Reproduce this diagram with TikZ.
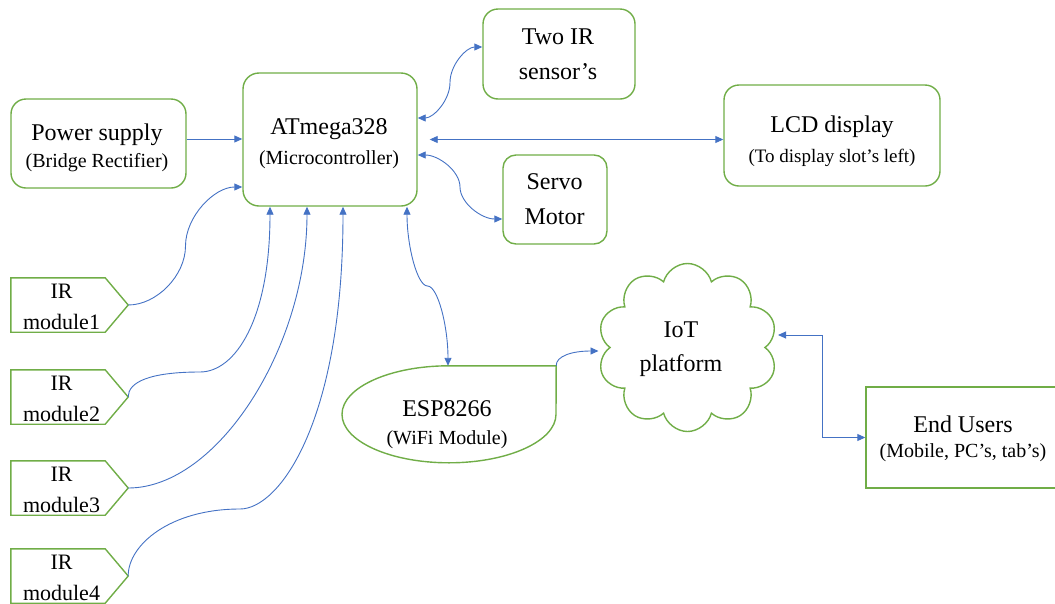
\documentclass[tikz,border=0pt]{standalone}
\usepackage{fontspec}
\setmainfont{Liberation Serif}
\usetikzlibrary{arrows.meta,shapes.symbols}
\definecolor{gr}{HTML}{70AD47}
\definecolor{bl}{HTML}{4472C4}
\begin{document}
\begin{tikzpicture}[x=1pt,y=-1pt,
  gbox/.style={draw=gr, line width=1.4pt, rounded corners=15pt, inner sep=0pt},
  frame/.style={inner sep=0pt, draw=none},
  gline/.style={draw=gr, line width=1.4pt, line join=miter},
  lbl/.style={inner sep=0pt, align=center, font=\fontsize{24}{#1}\selectfont},
  irlbl/.style={inner sep=0pt, align=center, font=\fontsize{22}{31}\selectfont},
  conn/.style={draw=bl, line width=0.9pt, -{Triangle[length=8pt,width=7pt]}},
  dconn/.style={draw=bl, line width=0.9pt, {Triangle[length=8pt,width=7pt]}-{Triangle[length=8pt,width=7pt]}}
]
\useasboundingbox (0,0) rectangle (1055,603);
\clip (0,0) rectangle (1055,603);

% boxes
\node[gbox, minimum width=175pt, minimum height=89pt] (ps) at (98.5,143.5) {};
\node[gbox, minimum width=174pt, minimum height=133pt, rounded corners=16pt] (mcu) at (330,139.5) {};
\node[gbox, minimum width=152pt, minimum height=90pt] (tir) at (559,54) {};
\node[gbox, minimum width=216pt, minimum height=101pt] (lcd) at (832,135.5) {};
\node[gbox, minimum width=104pt, minimum height=89pt, rounded corners=13pt] (servo) at (555,199.5) {};
\node[gbox, rounded corners=0pt, minimum width=194pt, minimum height=101pt] (eu) at (963,437.5) {};
\node[frame, minimum width=214pt, minimum height=97pt] (esp) at (449,414.5) {};
\draw[gline] (esp.north east) -- (esp.north) arc[start angle=90, end angle=360, x radius=107pt, y radius=48.5pt] -- cycle;
\node[cloud, draw=gr, line width=1.4pt, cloud puffs=10, cloud puff arc=150, aspect=1.07, minimum width=180pt, minimum height=168pt, inner sep=0pt] (cloud) at (687.5,347.5) {};

% IR modules
\foreach \i/\y in {1/305,2/397,3/488,4/576}{
  \node[frame, minimum width=117pt, minimum height=54pt] (ir\i) at (69.5,\y) {};
  \draw[gline] (ir\i.north west) -- ([xshift=-23pt]ir\i.north east) -- (ir\i.east) -- ([xshift=-23pt]ir\i.south east) -- (ir\i.south west) -- cycle;
  \node[irlbl] (irt\i) at (61.5,{\y+1.5}) {IR\\module\i};
}

% labels
\node[lbl=27] (pst) at (97,147.5) {Power supply\\{\fontsize{20}{24}\selectfont (Bridge Rectifier)}};
\node[lbl=30] (mcut) at (329,144) {ATmega328\\{\fontsize{20}{24}\selectfont (Microcontroller)}};
\node[lbl=35] (tirt) at (558,54.5) {Two IR\\sensor’s};
\node[lbl=35] (servot) at (554.5,199.5) {Servo\\Motor};
\node[lbl=30] (lcdt) at (832,141) {LCD display\\{\fontsize{19}{24}\selectfont (To display slot’s left)}};
\node[lbl=28] (espt) at (447,425) {ESP8266\\{\fontsize{20}{24}\selectfont (WiFi Module)}};
\node[lbl=34] (cloudt) at (681,349.6) {IoT\\platform};
\node[lbl=25] (eut) at (963,438.5) {End Users\\{\fontsize{20}{24}\selectfont (Mobile, PC’s, tab’s)}};

% connectors
\draw[conn] ([yshift=4.5pt]ps.east) -- ([yshift=4.5pt]ps.east -| mcu.west);
\draw[conn] (ir1.east) .. controls (156.75,305) and (185.5,275.5) .. (185.5,246) .. controls (185.5,216.5) and (214.25,187) .. ([yshift=-47.5pt]mcu.west);
\draw[conn] (ir2.east) .. controls (128,382) and (150,372) .. (200,372) .. controls (235,372) and (270,320) .. ([xshift=-60pt]mcu.south);
\draw[conn] (ir3.east) .. controls (217.5,488) and (307,347) .. ([xshift=-23pt]mcu.south);
\draw[conn] (ir4.east) .. controls (128,545) and (170,509) .. (240,509) .. controls (280,509) and (343,420) .. ([xshift=13pt]mcu.south);
\draw[dconn] ([xshift=77pt]mcu.south) .. controls (407,246) and (417.25,286) .. (427.5,286) .. controls (437.75,286) and (448,326) .. ([xshift=-1pt]esp.north);
\draw[dconn] ([yshift=21.5pt]mcu.east) .. controls (433.5,118) and (450,100.25) .. (450,82.5) .. controls (450,64.75) and (466.5,47) .. ([yshift=7pt]tir.west);
\draw[dconn] ([yshift=-15.5pt]mcu.east) .. controls (438.5,155) and (460,171) .. (460,187) .. controls (460,203) and (481.5,219) .. ([yshift=-19.5pt]servo.west);
\draw[dconn] ([xshift=12pt]mcu.east) -- (mcu.east -| lcd.west);
\draw[conn] (esp.north east) .. controls (556,356) and (572,351) .. ([shift={(-89,3.5)}]cloud.center);
\draw[dconn] ([shift={(90.5,-12.5)}]cloud.center) -- ++(44,0) |- (eu.west);
\end{tikzpicture}
\end{document}
